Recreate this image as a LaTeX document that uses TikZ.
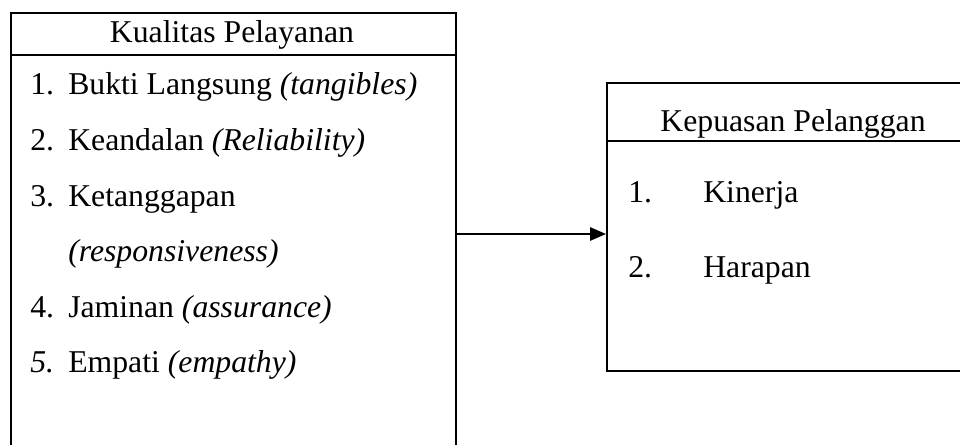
\documentclass[tikz,border=0pt]{standalone}
\usepackage{fontspec}
\setmainfont{Liberation Serif}
\usetikzlibrary{arrows.meta}

\begin{document}
\begin{tikzpicture}[x=0.75pt,y=-0.75pt,
    box/.style={draw,rectangle,line width=1.5pt,inner sep=0pt,anchor=north west},
    item/.style={anchor=base west,inner sep=0pt,font=\fontsize{23.8}{28}\selectfont},
    head/.style={anchor=base,inner sep=0pt,font=\fontsize{23.8}{28}\selectfont}]

  \useasboundingbox (0,0) rectangle (960,445);

  % the two boxes
  \node[box,minimum width=333.75pt,minimum height=331.5pt] (kualitas) at (10,12) {};
  \node[box,minimum width=280.5pt,minimum height=216pt]   (kepuasan) at (606,82) {};

  \draw[line width=1.5pt] (kualitas.west |- 0,55)  -- (kualitas.east |- 0,55);
  \draw[line width=1.5pt] (kepuasan.west |- 0,141) -- (kepuasan.east |- 0,141);

  % headings
  \node[head] (kualitas-h) at (232,43)  {Kualitas Pelayanan};
  \node[head] (kepuasan-h) at (793,132) {Kepuasan Pelanggan};

  % left list
  \node[item] (n1) at (30,95)  {1.};
  \node[item] (t1) at (68,95)  {Bukti Langsung \textit{(tangibles)}};
  \node[item] (n2) at (30,151) {2.};
  \node[item] (t2) at (68,151) {Keandalan \textit{(Reliability)}};
  \node[item] (n3) at (30,207) {3.};
  \node[item] (t3) at (68,207) {Ketanggapan};
  \node[item] (t3b) at (68,262) {\textit{(responsiveness)}};
  \node[item] (n4) at (30,317) {4.};
  \node[item] (t4) at (68,317) {Jaminan \textit{(assurance)}};
  \node[item] (n5) at (30,372) {\textit{5.}};
  \node[item] (t5) at (68,372) {Empati \textit{(empathy)}};

  % right list
  \node[item] (m1) at (628,203) {1.};
  \node[item] (s1) at (703,203) {Kinerja};
  \node[item] (m2) at (628,278) {2.};
  \node[item] (s2) at (703,278) {Harapan};

  \draw[line width=1.5pt,-{Triangle[length=12pt,width=10pt]}]
    (kualitas.east) -- (kualitas.east -| kepuasan.west);

\end{tikzpicture}
\end{document}
